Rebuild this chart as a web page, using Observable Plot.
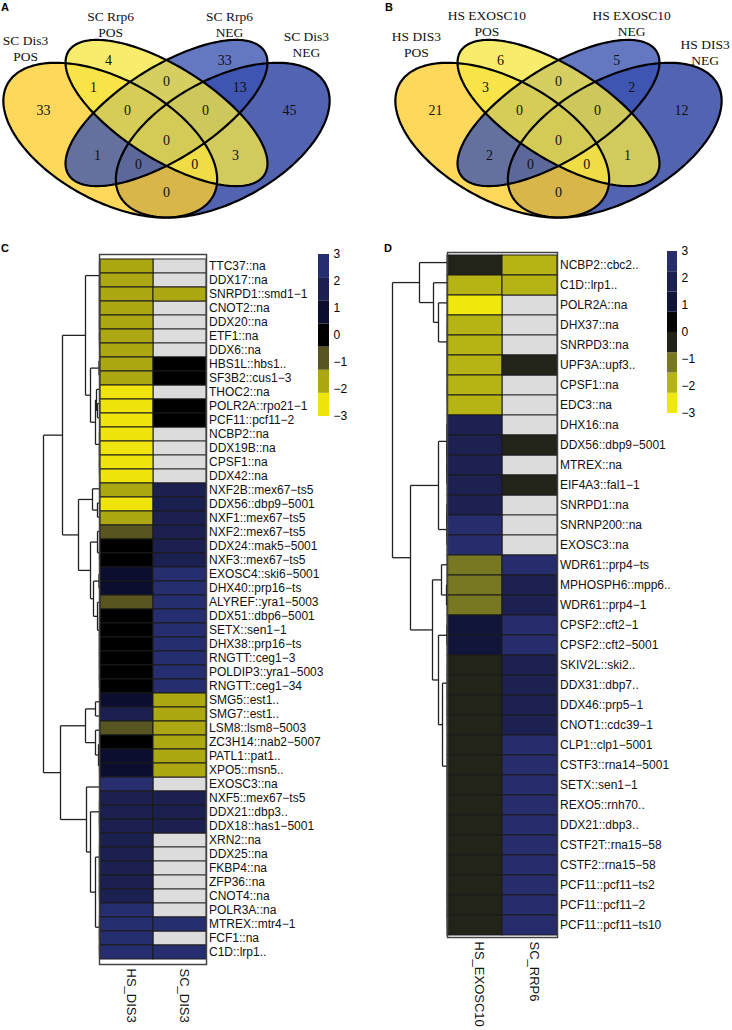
<!DOCTYPE html>
<html>
<head>
<meta charset="utf-8">
<script src="https://cdn.jsdelivr.net/npm/d3@7"></script>
<script src="https://cdn.jsdelivr.net/npm/@observablehq/plot@0.6"></script>
<style>
html,body{margin:0;padding:0;background:#fff;}
#fig{position:relative;width:732px;height:1030px;overflow:hidden;background:#fff;}
.tag{position:absolute;font:bold 11px "Liberation Sans",Arial,sans-serif;line-height:11px;color:#000;}
</style>
</head>
<body>
<div id="fig">
<div class="tag" style="left:1px;top:2px">A</div>
<div class="tag" style="left:385px;top:2px">B</div>
<div class="tag" style="left:1px;top:243px">C</div>
<div class="tag" style="left:384px;top:243px">D</div>
</div>
<script>
const SANS = "'Liberation Sans', Arial, Helvetica, sans-serif";
const SERIF = "'Liberation Serif', 'Times New Roman', serif";

// ---------------- DATA ----------------
// Venn regions (set indices 1..4)
const regionKeys = ["1","2","3","4","1&2","2&3","3&4","1&2&3","2&3&4","1&2&3&4","1&3","2&4","1&3&4","1&2&4","1&4"];
const vennA_sets = ["SC Dis3\nPOS", "SC Rrp6\nPOS", "SC Rrp6\nNEG", "SC Dis3\nNEG"];
const vennA_counts = [33, 4, 33, 45, 1, 0, 13, 0, 0, 0, 1, 3, 0, 0, 0];
const vennB_sets = ["HS DIS3\nPOS", "HS EXOSC10\nPOS", "HS EXOSC10\nNEG", "HS DIS3\nNEG"];
const vennB_counts = [21, 6, 5, 12, 3, 0, 2, 0, 0, 0, 2, 1, 0, 0, 0];

// Panel C heatmap
const genesC = ["TTC37::na","DDX17::na","SNRPD1::smd1\u22121","CNOT2::na","DDX20::na","ETF1::na","DDX6::na","HBS1L::hbs1..","SF3B2::cus1\u22123","THOC2::na","POLR2A::rpo21\u22121","PCF11::pcf11\u22122","NCBP2::na","DDX19B::na","CPSF1::na","DDX42::na","NXF2B::mex67\u2212ts5","DDX56::dbp9\u22125001","NXF1::mex67\u2212ts5","NXF2::mex67\u2212ts5","DDX24::mak5\u22125001","NXF3::mex67\u2212ts5","EXOSC4::ski6\u22125001","DHX40::prp16\u2212ts","ALYREF::yra1\u22125003","DDX51::dbp6\u22125001","SETX::sen1\u22121","DHX38::prp16\u2212ts","RNGTT::ceg1\u22123","POLDIP3::yra1\u22125003","RNGTT::ceg1\u221234","SMG5::est1..","SMG7::est1..","LSM8::lsm8\u22125003","ZC3H14::nab2\u22125007","PATL1::pat1..","XPO5::msn5..","EXOSC3::na","NXF5::mex67\u2212ts5","DDX21::dbp3..","DDX18::has1\u22125001","XRN2::na","DDX25::na","FKBP4::na","ZFP36::na","CNOT4::na","POLR3A::na","MTREX::mtr4\u22121","FCF1::na","C1D::lrp1.."];
const colsC = ["HS_DIS3", "SC_DIS3"];
const hsDIS3 = [-1.8,-1.7,-1.6,-1.8,-1.7,-1.9,-1.6,-1.8,-1.7,-2.6,-2.5,-2.7,-2.6,-2.5,-2.8,-2.6,-1.6,-2.4,-1.7,-0.9,0.1,0.0,0.8,0.7,-0.8,0.1,0.2,-0.1,0.0,0.1,0.2,0.8,1.6,-0.9,0.2,0.9,0.8,2.5,1.7,1.8,1.6,1.7,1.8,1.6,1.7,1.9,2.4,2.6,2.5,2.4];
const scDIS3 = [null,null,-1.7,null,null,null,null,0.1,0.0,null,0.1,0.0,null,null,null,null,1.7,1.8,1.7,1.6,1.7,1.8,2.5,2.6,2.4,2.5,2.6,2.5,2.4,2.5,2.6,-1.7,-1.8,-1.6,-1.7,-1.8,-1.6,null,1.7,1.8,1.6,null,null,null,null,null,null,2.5,null,2.6];

// Panel D heatmap
const genesD = ["NCBP2::cbc2..","C1D::lrp1..","POLR2A::na","DHX37::na","SNRPD3::na","UPF3A::upf3..","CPSF1::na","EDC3::na","DHX16::na","DDX56::dbp9\u22125001","MTREX::na","EIF4A3::fal1\u22121","SNRPD1::na","SNRNP200::na","EXOSC3::na","WDR61::prp4\u2212ts","MPHOSPH6::mpp6..","WDR61::prp4\u22121","CPSF2::cft2\u22121","CPSF2::cft2\u22125001","SKIV2L::ski2..","DDX31::dbp7..","DDX46::prp5\u22121","CNOT1::cdc39\u22121","CLP1::clp1\u22125001","CSTF3::rna14\u22125001","SETX::sen1\u22121","REXO5::rnh70..","DDX21::dbp3..","CSTF2T::rna15\u221258","CSTF2::rna15\u221258","PCF11::pcf11\u2212ts2","PCF11::pcf11\u22122","PCF11::pcf11\u2212ts10"];
const colsD = ["HS_EXOSC10", "SC_RRP6"];
const hsEXOSC10 = [-0.4,-1.9,-2.6,-1.9,-1.8,-1.9,-1.8,-1.9,1.9,1.8,1.9,1.8,1.9,2.6,2.5,-1.1,-1.2,-1.1,1.1,1.2,-0.4,-0.4,-0.4,-0.4,-0.4,-0.4,-0.4,-0.4,-0.4,-0.4,-0.4,-0.4,-0.4,-0.4];
const scRRP6 = [-1.9,-1.9,null,null,null,-0.4,null,null,null,-0.4,null,-0.4,null,null,null,2.5,1.9,1.9,2.5,2.5,1.9,1.9,1.9,1.9,2.5,2.5,2.5,2.5,2.5,2.5,2.5,2.5,2.5,2.5];

// colour keys (binned, low -> high)
const keyTicks = [-3, -2, -1, 0, 1, 2, 3];
const coloursC = ["#efe50d", "#aba814", "#585520", "#000000", "#0b0e2e", "#1b2050", "#262e70"];
const coloursD = ["#f0e70c", "#b6b414", "#787722", "#22241a", "#060608", "#12153a", "#1c2152", "#262c6c"];

// dendrograms: [mergeHeight, left, right]; leaves are row numbers
function chain(h, ...rows) { return rows.length === 1 ? rows[0] : [h, rows[0], chain(h, ...rows.slice(1))]; }
const treeC = [56,
  [37,
    [14, chain(0,1,2,3,4,5,6,7),
      [9, [0.5,8,9], [4, [3,10,[2,11,12]], chain(0,13,14,15,16)]]],
    [21, [7,17,[2,18,19]],
      [9, [2,20,[0,21,22]], [6,[0.5,23,24],[2,25,chain(0,26,27,28,29,30,31)]]]]],
  [39,
    [14, [4,32,33], [4,34,[1,35,[0,36,37]]]],
    [13, 38, [9, chain(0,39,40,41), [4, chain(0,42,43,44,45,46), chain(0,47,48,49,50)]]]]];
const treeD = [55,
  [28, 1, [14, 2, [9, 3, chain(0,4,5,6,7,8)]]],
  [37,
    [9, [0.5,9,[0.5,10,[0.5,11,12]]], [0.5,[0.5,13,14],15]],
    [15, [6,16,[1,17,18]], [9,[0.5,19,20],[5, chain(0,21,22,23,24), chain(0,25,26,27,28,29,30,31,32,33,34)]]]]];

// ---------------- LAYOUT ----------------
const fig = document.getElementById("fig");
function place(el, left, top) {
  el.style.position = "absolute";
  el.style.left = left + "px";
  el.style.top = top + "px";
  fig.appendChild(el);
}
const baseStyle = {background: "transparent", overflow: "visible", fontFamily: SANS, fontSize: "12px", color: "#000"};

// Venn layout (VennDiagram quad geometry, unit square)
const ellipses = [
  {set: 0, cx: 0.35, cy: 0.47, a: 0.35, b: 0.20, rot: 135},
  {set: 1, cx: 0.50, cy: 0.57, a: 0.35, b: 0.15, rot: 135},
  {set: 2, cx: 0.50, cy: 0.57, a: 0.35, b: 0.15, rot: 45},
  {set: 3, cx: 0.65, cy: 0.47, a: 0.35, b: 0.20, rot: 45}
];
const ellipseFill = ["#fecd2c", "#f6e744", "#3852b1", "#20379b"];
const drawOrder = [3, 0, 2, 1];
const regionXY = [[0.172,0.579],[0.345,0.763],[0.655,0.763],[0.828,0.579],[0.305,0.664],[0.5,0.686],[0.695,0.664],[0.396,0.579],[0.604,0.579],[0.5,0.469],[0.316,0.415],[0.684,0.415],[0.425,0.38],[0.575,0.38],[0.5,0.277]];
const catXY_A = [[0.124,0.811],[0.351,0.898],[0.668,0.898],[0.873,0.824]];
const catXY_B = [[0.121,0.824],[0.309,0.901],[0.695,0.901],[0.891,0.795]];

function ellipsePoints(e) {
  const pts = [], r = e.rot * Math.PI / 180, n = 180;
  for (let k = 0; k < n; k++) {
    const t = 2 * Math.PI * k / n, ex = e.a * Math.cos(t), ey = e.b * Math.sin(t);
    pts.push({set: e.set, x: e.cx + ex * Math.cos(r) - ey * Math.sin(r), y: e.cy + ex * Math.sin(r) + ey * Math.cos(r)});
  }
  return pts;
}

function venn(sets, counts, catXY, width) {
  const H = 225, PX = 375, PY = 271.5, CX = 166, CY = 112.5;
  const pts = ellipses.map(ellipsePoints);
  const marks = drawOrder.map(i => Plot.line(pts[i], {x: "x", y: "y", fill: ellipseFill[i], fillOpacity: 0.78, stroke: "none", curve: "linear-closed"}));
  marks.push(Plot.line(pts.flat(), {x: "x", y: "y", z: "set", stroke: "#000", strokeWidth: 2.2, curve: "linear-closed"}));
  marks.push(Plot.text(counts, {x: (d, i) => regionXY[i][0], y: (d, i) => regionXY[i][1], text: d => String(d), fontFamily: SERIF, fontSize: 14, fill: "#111"}));
  marks.push(Plot.text(sets, {x: (d, i) => catXY[i][0], y: (d, i) => catXY[i][1], text: d => d, lineHeight: 1.18, fontFamily: SERIF, fontSize: 13.5, fill: "#111"}));
  return Plot.plot({
    width, height: H, margin: 0,
    x: {domain: [0.5 - CX / PX, 0.5 + (width - CX) / PX], axis: null},
    y: {domain: [0.57 - (H - CY) / PY, 0.57 + CY / PY], axis: null},
    style: baseStyle,
    marks
  });
}
place(venn(vennA_sets, vennA_counts, catXY_A, 366), 0, 0);
place(venn(vennB_sets, vennB_counts, catXY_B, 340), 392, 0);

// heatmap
function heatmap(genes, cols, a, b, colours, opts) {
  const n = colours.length, thr = d3.range(1, n).map(k => -3 + 6 * k / n);
  const tbl = genes.flatMap((g, i) => [{gene: g, col: cols[0], v: a[i]}, {gene: g, col: cols[1], v: b[i]}]);
  return Plot.plot({
    width: opts.cellW * 2 + opts.right, height: opts.height,
    marginLeft: 0, marginRight: opts.right, marginTop: opts.top, marginBottom: opts.bottom,
    x: {domain: cols, padding: 0, axis: null},
    y: {domain: genes, padding: 0, axis: null},
    color: {type: "threshold", domain: thr, range: colours},
    style: baseStyle,
    marks: [
      Plot.cell(tbl.filter(d => d.v == null), {x: "col", y: "gene", fill: "#dcdcdc", stroke: "#333", strokeWidth: 1, inset: 0}),
      Plot.cell(tbl.filter(d => d.v != null), {x: "col", y: "gene", fill: "v", stroke: "#1a1a1a", strokeWidth: 1, inset: 0}),
      Plot.frame({stroke: "#444", strokeWidth: 1.5}),
      Plot.text(genes, {y: d => d, frameAnchor: "right", textAnchor: "start", dx: 2.5, fontSize: 12, fill: "#111"}),
      Plot.text(cols, {x: d => d, frameAnchor: "bottom", rotate: 90, textAnchor: "start", dy: 4, fontSize: 13, fill: "#111"})
    ]
  });
}

function dendrogram(tree, nRows, hMax, opts) {
  const segs = [];
  (function walk(node) {
    if (typeof node === "number") return {y: node - 0.5, h: 0};
    const [h, l, r] = node, A = walk(l), B = walk(r);
    segs.push({x1: h, y1: A.y, x2: h, y2: B.y});
    segs.push({x1: h, y1: A.y, x2: A.h, y2: A.y});
    segs.push({x1: h, y1: B.y, x2: B.h, y2: B.y});
    return {y: (A.y + B.y) / 2, h};
  })(tree);
  return Plot.plot({
    width: opts.width, height: opts.height,
    marginLeft: opts.left, marginRight: 0, marginTop: opts.top, marginBottom: opts.bottom,
    x: {domain: [hMax, 0], axis: null},
    y: {domain: [nRows, 0], axis: null},
    style: baseStyle,
    marks: [Plot.link(segs, {x1: "x1", y1: "y1", x2: "x2", y2: "y2", stroke: "#222", strokeWidth: 1.3})]
  });
}

function colourKey(colours, opts) {
  const n = colours.length;
  const bins = colours.map((c, i) => ({lo: -3 + 6 * i / n, hi: -3 + 6 * (i + 1) / n, c}));
  return Plot.plot({
    width: opts.width, height: opts.height,
    marginLeft: opts.left, marginRight: opts.right, marginTop: opts.top, marginBottom: opts.bottom,
    y: {domain: [keyTicks[0], keyTicks[keyTicks.length - 1]], ticks: keyTicks.length - 1, tickSize: 0, tickPadding: 4, axis: "right", label: null, tickFormat: d3.format("d")},
    color: {type: "identity"},
    style: baseStyle,
    marks: [Plot.rect(bins, {y1: "lo", y2: "hi", fill: d => d.c})]
  });
}

// Panel C
place(dendrogram(treeC, genesC.length, 56, {width: 99, height: 800, left: 43, top: 24, bottom: 66}), 0, 230);
place(heatmap(genesC, colsC, hsDIS3, scDIS3, coloursC, {cellW: 53.5, right: 150, height: 800, top: 24, bottom: 66}), 99, 230);
place(colourKey(coloursC, {width: 60, height: 200, left: 18, right: 31, top: 24, bottom: 14}), 300, 230);

// Panel D
place(dendrogram(treeD, genesD.length, 55, {width: 77, height: 800, left: 22, top: 22, bottom: 93}), 370, 230);
place(heatmap(genesD, colsD, hsEXOSC10, scRRP6, coloursD, {cellW: 55, right: 175, height: 800, top: 22, bottom: 93}), 447, 230);
place(colourKey(coloursD, {width: 60, height: 200, left: 17, right: 33, top: 21, bottom: 17}), 650, 230);
</script>
</body>
</html>
